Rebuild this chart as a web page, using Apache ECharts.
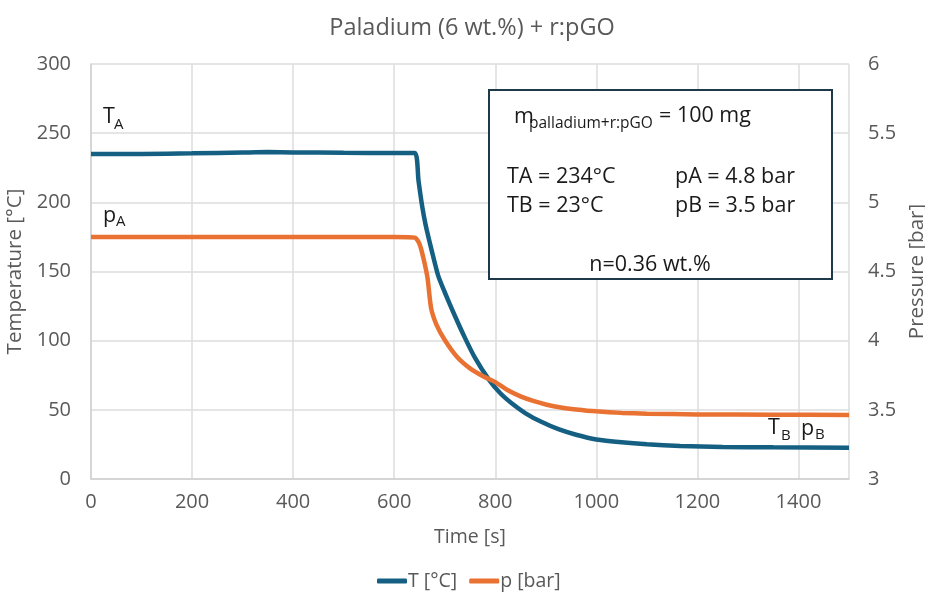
<!DOCTYPE html>
<html>
<head>
<meta charset="utf-8">
<script src="https://cdn.jsdelivr.net/npm/echarts@6/dist/echarts.min.js"></script>
<style>
html,body{margin:0;padding:0;background:#fff;overflow:hidden;}
#chart{width:925px;height:595px;}
</style>
</head>
<body>
<div id="chart"></div>
<script>
var titleText = 'Paladium (6 wt.%) + r:pGO';
var seriesNames = ['T [°C]', 'p [bar]'];
var xName = 'Time [s]';
var yLeftName = 'Temperature [°C]';
var yRightName = 'Pressure [bar]';

// Temperature series (time in s, value in °C)
var tTime = [0, 100, 200, 300, 350, 400, 500, 600, 641, 648, 655, 662, 675, 687, 700, 720, 740, 760, 787, 810, 835, 860, 890, 925, 960, 1000, 1050, 1100, 1166, 1250, 1350, 1500];
var tValues = [235, 235, 235.4, 236, 236.3, 236.1, 235.8, 235.6, 235.6, 216, 198, 184, 164, 147, 135, 118, 102, 87.5, 72, 62, 54, 47.5, 41.5, 36, 32, 28.6, 26.5, 25.1, 23.9, 23.2, 22.9, 22.6];

// Pressure series (time in s, value in bar)
var pTime = [0, 100, 200, 300, 400, 500, 600, 641, 650, 658, 666, 673, 684, 700, 725, 750, 775, 800, 825, 850, 875, 900, 930, 960, 1000, 1050, 1100, 1200, 1350, 1500];
var pValues = [4.75, 4.75, 4.75, 4.75, 4.75, 4.75, 4.75, 4.745, 4.70, 4.594, 4.451, 4.235, 4.112, 4.005, 3.88, 3.80, 3.745, 3.70, 3.641, 3.597, 3.564, 3.539, 3.517, 3.503, 3.489, 3.478, 3.472, 3.467, 3.465, 3.463];

function pairs(xs, ys){ return xs.map(function(x,i){ return [x, ys[i]]; }); }

var FONT = 'Open Sans';
var GRAY = '#595959';
var BLUE = '#156082';
var ORANGE = '#E97132';
var INK = '#1a1a1a';

var chart = echarts.init(document.getElementById('chart'), null, {width: 925, height: 595});
function txt(x, y, s, size, extra){
  var st = {text: s, font: size + 'px "Open Sans"', fill: INK, verticalAlign: 'middle'};
  if (extra) for (var k in extra) st[k] = extra[k];
  return {type: 'text', x: x, y: y, style: st, z: 11};
}
chart.setOption({
  animation: false,
  backgroundColor: '#ffffff',
  textStyle: {fontFamily: FONT},
  title: {
    text: titleText, left: 467, textAlign: 'center', top: 11,
    textStyle: {fontFamily: FONT, fontSize: 23.5, fontWeight: 'normal', color: GRAY}
  },
  legend: {
    bottom: -1, left: 372,
    data: seriesNames,
    icon: 'roundRect', itemWidth: 30, itemHeight: 5, itemGap: 12,
    textStyle: {fontFamily: FONT, fontSize: 19.5, color: GRAY, padding: [0,0,0,-4]}
  },
  grid: {left: 91, right: 76, top: 64, bottom: 116, containLabel: false, outerBoundsMode: 'none'},
  xAxis: {
    type: 'value', min: 0, max: 1500, interval: 200,
    name: xName, nameLocation: 'middle', nameGap: 48,
    nameTextStyle: {fontFamily: FONT, fontSize: 19.5, color: GRAY},
    axisLine: {show: true, lineStyle: {color: '#d0d0d0', width: 1.5}},
    axisTick: {show: false},
    axisLabel: {fontFamily: FONT, fontSize: 20, color: GRAY, margin: 13, showMaxLabel: false,
      formatter: function(v){ return String(v); }},
    splitLine: {show: true, lineStyle: {color: '#dcdcdc', width: 1.5}}
  },
  yAxis: [{
    type: 'value', min: 0, max: 300, interval: 50,
    name: yLeftName, nameLocation: 'middle', nameGap: 58,
    nameTextStyle: {fontFamily: FONT, fontSize: 20.5, color: GRAY},
    axisLine: {show: true, lineStyle: {color: '#d0d0d0', width: 1.5}},
    axisTick: {show: false},
    axisLabel: {fontFamily: FONT, fontSize: 20, color: GRAY, margin: 20},
    splitLine: {show: true, lineStyle: {color: '#dcdcdc', width: 1.5}}
  }, {
    type: 'value', min: 3, max: 6, interval: 0.5,
    name: yRightName, nameLocation: 'middle', nameGap: 56,
    nameTextStyle: {fontFamily: FONT, fontSize: 20.5, color: GRAY},
    axisLine: {show: false},
    axisTick: {show: false},
    axisLabel: {fontFamily: FONT, fontSize: 20, color: GRAY, margin: 19},
    splitLine: {show: false}
  }],
  series: [{
    name: seriesNames[0], type: 'line', yAxisIndex: 0,
    data: pairs(tTime, tValues),
    showSymbol: false, smooth: 0.2,
    lineStyle: {color: BLUE, width: 4.5},
    itemStyle: {color: BLUE}
  }, {
    name: seriesNames[1], type: 'line', yAxisIndex: 1,
    data: pairs(pTime, pValues),
    showSymbol: false, smooth: 0.2,
    lineStyle: {color: ORANGE, width: 4.5},
    itemStyle: {color: ORANGE}
  }],
  graphic: [
    {type: 'rect', left: 488, top: 89, shape: {width: 343, height: 189}, style: {fill: '#fff', stroke: '#1e3a4a', lineWidth: 2}, z: 10},
    txt(514, 117, 'm', 21.5),
    txt(529, 124, 'palladium+r:pGO', 15.5),
    txt(659, 116, '= 100 mg', 21.5),
    txt(507, 177, 'TA = 234°C', 21.5),
    txt(675, 177, 'pA = 4.8 bar', 21.5),
    txt(507, 206, 'TB = 23°C', 21.5),
    txt(675, 206, 'pB = 3.5 bar', 21.5),
    txt(650, 265, 'n=0.36 wt.%', 21.5, {align: 'center'}),
    txt(103, 117, 'T', 21.5),
    txt(114, 125, 'A', 15),
    txt(103, 216, 'p', 21.5),
    txt(116, 222, 'A', 15),
    txt(768, 428, 'T', 21.5),
    txt(781, 436, 'B', 15),
    txt(801, 429, 'p', 21.5),
    txt(815, 435, 'B', 15)
  ]
});
</script>
</body>
</html>
